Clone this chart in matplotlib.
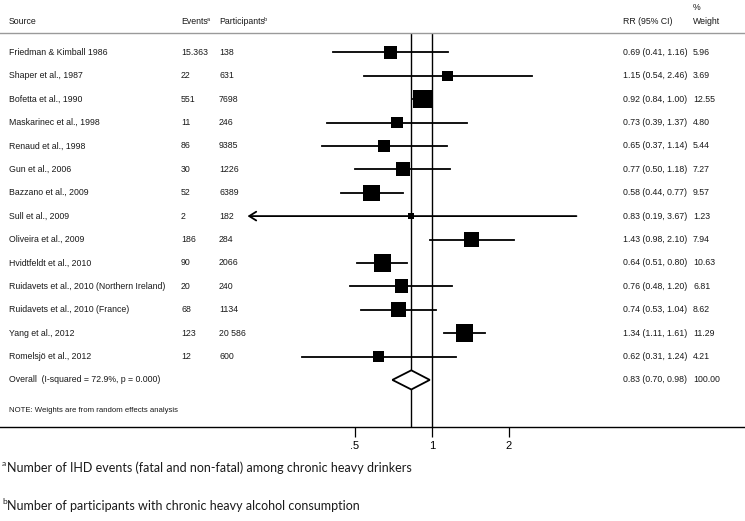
import numpy as np
import matplotlib
matplotlib.use("Agg")
import matplotlib.pyplot as plt
from matplotlib.patches import Polygon

plt.rcParams.update({"font.family": "Liberation Sans", "font.size": 6.3})

# ---- data ----
studies = ["Friedman & Kimball 1986", "Shaper et al., 1987", "Bofetta et al., 1990",
           "Maskarinec et al., 1998", "Renaud et al., 1998", "Gun et al., 2006",
           "Bazzano et al., 2009", "Sull et al., 2009", "Oliveira et al., 2009",
           "Hvidtfeldt et al., 2010", "Ruidavets et al., 2010 (Northern Ireland)",
           "Ruidavets et al., 2010 (France)", "Yang et al., 2012", "Romelsjö et al., 2012"]
events = ["15.363", "22", "551", "11", "86", "30", "52", "2", "186", "90", "20", "68", "123", "12"]
participants = ["138", "631", "7698", "246", "9385", "1226", "6389", "182", "284", "2066",
                "240", "1134", "20 586", "600"]
rr = [0.69, 1.15, 0.92, 0.73, 0.65, 0.77, 0.58, 0.83, 1.43, 0.64, 0.76, 0.74, 1.34, 0.62]
ci_lo = [0.41, 0.54, 0.84, 0.39, 0.37, 0.50, 0.44, 0.19, 0.98, 0.51, 0.48, 0.53, 1.11, 0.31]
ci_hi = [1.16, 2.46, 1.00, 1.37, 1.14, 1.18, 0.77, 3.67, 2.10, 0.80, 1.20, 1.04, 1.61, 1.24]
weights = [5.96, 3.69, 12.55, 4.80, 5.44, 7.27, 9.57, 1.23, 7.94, 10.63, 6.81, 8.62, 11.29, 4.21]
overall_rr, overall_lo, overall_hi = 0.83, 0.70, 0.98
overall_label = "Overall  (I-squared = 72.9%, p = 0.000)"
xticks = [0.5, 1, 2]
xticklabels = [".5", "1", "2"]
footnotes = [("a", "Number of IHD events (fatal and non-fatal) among chronic heavy drinkers"),
             ("b", "Number of participants with chronic heavy alcohol consumption")]

W, H = 745, 521
fig = plt.figure(figsize=(W / 100, H / 100), dpi=100)
top_px, bot_px = 33, 427
ax = fig.add_axes([0, 1 - bot_px / H, 1, (bot_px - top_px) / H])
ax.set_xscale("log")
# 1 -> x=432px, one doubling = 77px
ax.set_xlim(2 ** (-432 / 77), 2 ** ((W - 432) / 77))
row0, drow = 52.3, 23.4
ax.set_ylim((bot_px - row0) / drow, (top_px - row0) / drow)

for s in ["left", "right"]:
    ax.spines[s].set_visible(False)
ax.spines["top"].set_color("#9a9a9a"); ax.spines["top"].set_linewidth(1.0)
ax.spines["bottom"].set_linewidth(1.0)
ax.set_yticks([])
ax.set_xticks(xticks); ax.set_xticklabels(xticklabels, fontsize=8)
ax.xaxis.set_minor_locator(plt.NullLocator())
ax.tick_params(axis="x", length=7, width=0.9, pad=3)

n = len(studies)
ys = np.arange(n)
ax.axvline(1, color="k", lw=1.0, zorder=2)
ax.axvline(overall_rr, color="k", lw=1.0, zorder=2)

for i in range(n):
    if i == 7:  # Sull: lower limit drawn as an arrow
        ax.annotate("", xy=(ci_lo[i], ys[i]), xytext=(ci_hi[i], ys[i]),
                    arrowprops=dict(arrowstyle="->,head_length=0.8,head_width=0.5",
                                    lw=1.3, color="k", shrinkA=0, shrinkB=0))
    else:
        ax.plot([ci_lo[i], ci_hi[i]], [ys[i], ys[i]], color="k", lw=1.3, zorder=3)
ax.scatter(rr, ys, s=[14.5 * w for w in weights], marker="s", c="k", linewidths=0, zorder=4)

yo, hd = n, 0.41
ax.add_patch(Polygon([(overall_lo, yo), (overall_rr, yo - hd), (overall_hi, yo), (overall_rr, yo + hd)],
                     closed=True, fc="white", ec="k", lw=1.3, zorder=5))

# ---- text columns ----
tr = ax.get_yaxis_transform()
tc = "#1a1a1a"
def col(px, y, s, **kw):
    return ax.text(px / W, y, s, transform=tr, va="center", color=tc, clip_on=False, **kw)

yh = (22 - row0) / drow
col(9, yh, "Source")
t_ev = col(181, yh, "Events")
t_pa = col(219, yh, "Participants")
for t, sup in [(t_ev, "a"), (t_pa, "b")]:
    ax.annotate(sup, xy=(1, 1), xycoords=t, xytext=(-0.8, 0.5), textcoords="offset points",
                fontsize=4, va="top", color=tc)
col(623, yh, "RR (95% CI)")
col(693, yh, "Weight")
col(693, (8 - row0) / drow, "%")

for i in range(n):
    col(9, ys[i], studies[i])
    col(181, ys[i], events[i])
    col(219, ys[i], participants[i])
    col(623, ys[i], f"{rr[i]:.2f} ({ci_lo[i]:.2f}, {ci_hi[i]:.2f})")
    col(693, ys[i], f"{weights[i]:.2f}")
col(9, yo, overall_label)
col(623, yo, f"{overall_rr:.2f} ({overall_lo:.2f}, {overall_hi:.2f})")
col(693, yo, "100.00")
col(9, (410 - row0) / drow, "NOTE: Weights are from random effects analysis", fontsize=5.6)

# ---- footnotes ----
for (sup, txt), ypx in zip(footnotes, [468, 506]):
    fig.text(2 / W, 1 - (ypx - 5) / H, sup, fontsize=6, family="Lato", va="center", color=tc)
    fig.text(7 / W, 1 - ypx / H, txt, fontsize=9.0, family="Lato", va="center", color=tc)

fig.savefig("out.png", dpi=100)
